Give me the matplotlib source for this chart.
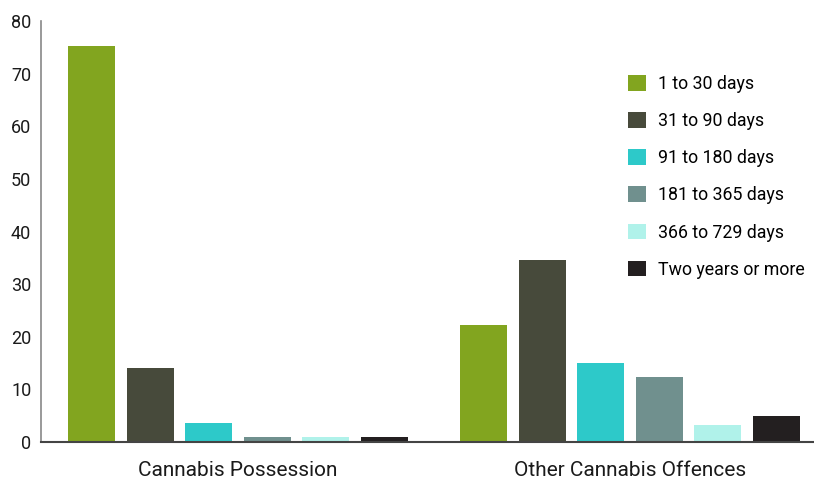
import matplotlib.pyplot as plt
import numpy as np

plt.rcParams['font.family'] = ['Roboto', 'DejaVu Sans']

categories = ["Cannabis Possession", "Other Cannabis Offences"]
durations = ["1 to 30 days", "31 to 90 days", "91 to 180 days",
             "181 to 365 days", "366 to 729 days", "Two years or more"]
possession = [75.3, 14.1, 3.6, 1.0, 1.0, 1.0]
other_offences = [22.2, 34.6, 15.0, 12.4, 3.2, 4.9]
colors = ["#82a51f", "#474a3b", "#2dc9c9", "#70908e", "#b0f2ea", "#231f20"]

fig = plt.figure(figsize=(8.14, 4.79), dpi=100)
ax = fig.add_axes([0.0504, 0.0772, 0.9496, 0.879])

x = np.arange(len(categories))
step = 0.1495
width = 0.12
for i, label in enumerate(durations):
    vals = [possession[i], other_offences[i]]
    ax.bar(x + (i - 2.5) * step, vals, width, color=colors[i], label=label)

ax.set_xlim(-0.503, 1.47)
ax.set_ylim(0, 80)
ax.set_yticks(np.arange(0, 81, 10))
ax.set_xticks(x)
ax.set_xticklabels(categories, fontsize=15, color="#1a1a1a")
ax.tick_params(axis="y", length=0, labelsize=13, labelcolor="#1a1a1a", pad=7)
ax.tick_params(axis="x", length=0, pad=14)

for side in ["top", "right"]:
    ax.spines[side].set_visible(False)
ax.spines["left"].set_color("#888888")
ax.spines["left"].set_linewidth(1.2)
ax.spines["bottom"].set_color("#444444")
ax.spines["bottom"].set_linewidth(1.5)

ax.legend(loc="upper left", bbox_to_anchor=(0.75, 0.888), frameon=False,
          fontsize=12.8, handlelength=1.0, handleheight=1.0,
          labelspacing=1.07, handletextpad=0.7, borderaxespad=0)

plt.savefig("out.png", dpi=100)
